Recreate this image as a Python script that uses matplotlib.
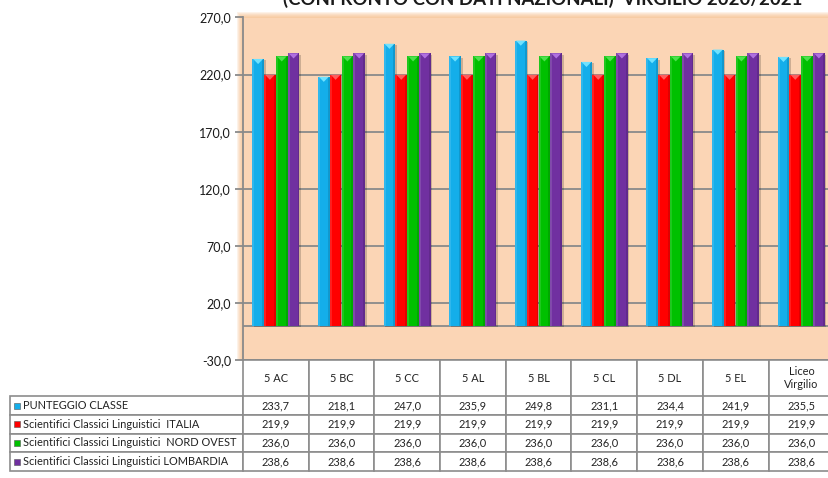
import matplotlib
matplotlib.use("Agg")
import matplotlib.pyplot as plt
from matplotlib.table import Table
from matplotlib.patches import Rectangle, Polygon
from matplotlib.ticker import FuncFormatter

plt.rcParams['font.family'] = ['Lato', 'DejaVu Sans']

# dati INVALSI per classe
classi = ["5 AC", "5 BC", "5 CC", "5 AL", "5 BL", "5 CL", "5 DL", "5 EL", "Liceo\nVirgilio"]
punteggio_classe = [233.7, 218.1, 247.0, 235.9, 249.8, 231.1, 234.4, 241.9, 235.5]
italia = [219.9, 219.9, 219.9, 219.9, 219.9, 219.9, 219.9, 219.9, 219.9]
nord_ovest = [236.0, 236.0, 236.0, 236.0, 236.0, 236.0, 236.0, 236.0, 236.0]
lombardia = [238.6, 238.6, 238.6, 238.6, 238.6, 238.6, 238.6, 238.6, 238.6]

serie = [
    "PUNTEGGIO CLASSE",
    "Scientifici Classici Linguistici  ITALIA",
    "Scientifici Classici Linguistici  NORD OVEST",
    "Scientifici Classici Linguistici LOMBARDIA",
]
valori = [punteggio_classe, italia, nord_ovest, lombardia]
colori = ["#14AEEA", "#FF0000", "#00C000", "#7030A0"]
punte = ["#6FE2FF", "#FF5C5C", "#4EE04E", "#B070E0"]

W, H = 829, 478
fig = plt.figure(figsize=(W / 100, H / 100), dpi=100)

# area del grafico in pixel
left_px, right_px, top_px, bot_px = 243, 834, 17.5, 360
ax = fig.add_axes([left_px / W, 1 - bot_px / H,
                   (right_px - left_px) / W, (bot_px - top_px) / H])
ax.set_facecolor("#FBD5B5")

# alone arancione attorno all'area del grafico
for k in range(1, 7):
    fig.patches.append(Rectangle(((left_px - k) / W, 1 - (bot_px) / H),
                                 (right_px - left_px + 2 * k) / W,
                                 (bot_px - top_px + k) / H,
                                 transform=fig.transFigure, facecolor="#F6B57A",
                                 alpha=0.17, edgecolor="none", zorder=-5))

n = len(classi)
w = 0.18
ax.set_xlim(-0.5, n - 0.5)
ax.set_ylim(-30, 270)

ax.axhline(0, color="#8A8A8A", lw=1.3, zorder=1)
for i, vals in enumerate(valori):
    for j, v in enumerate(vals):
        x = j + (i - 1.5) * w
        # ombra
        ax.add_patch(Rectangle((x - w / 2 + 0.025, -1.2), w, v, facecolor="black",
                               alpha=0.18, edgecolor="none", zorder=2))
        ax.bar(x, v, width=w, color=colori[i], edgecolor="none", zorder=3)
        # riflesso a sinistra e bordo scuro a destra
        ax.add_patch(Rectangle((x - w / 2, 0), w * 0.18, v, facecolor="white",
                               alpha=0.12, edgecolor="none", zorder=4))
        ax.add_patch(Rectangle((x + w / 2 - w * 0.16, 0), w * 0.16, v, facecolor="black",
                               alpha=0.12, edgecolor="none", zorder=4))
        # punta chiara in cima
        ax.add_patch(Polygon([(x - w / 2 + w * 0.08, v), (x + w / 2 - w * 0.08, v),
                              (x, v - 4.5)], closed=True, facecolor=punte[i],
                             edgecolor="none", zorder=5))

ax.set_yticks(range(-30, 271, 50))
ax.yaxis.set_major_formatter(FuncFormatter(lambda v, p: f"{v:.1f}".replace(".", ",")))
ax.yaxis.grid(True, color="#8A8A8A", lw=1.3)
ax.set_axisbelow(True)
ax.set_xticks([])
ax.tick_params(axis="y", direction="out", length=6, width=1.3, color="#8A8A8A",
               labelsize=9, labelcolor="#1a1a1a", pad=2.5)
for s in ["top", "right", "bottom"]:
    ax.spines[s].set_visible(False)
ax.spines["left"].set_color("#8A8A8A")
ax.spines["left"].set_linewidth(1.3)

# tabella dati sotto il grafico (colonna 0 = etichette delle serie)
col_w = 65.7
head_h = 36.5
row_h = 18.6
lab_x = 10
lab_w = left_px - lab_x
ax_w = right_px - left_px
axes_h = bot_px - top_px
tab_h = head_h + 4 * row_h
tab = Table(ax, bbox=[(lab_x - left_px) / ax_w, -tab_h / axes_h,
                      (lab_w + n * col_w) / ax_w, tab_h / axes_h])
tab.auto_set_font_size(False)
edge = "#8C8C8C"
fs = 7.9
for j, c in enumerate(classi, start=1):
    cell = tab.add_cell(0, j, width=col_w, height=head_h, text=c, loc="center",
                        facecolor="white", edgecolor=edge)
    cell.set_linewidth(1.2)
    cell.get_text().set_fontsize(fs)
    cell.get_text().set_color("#222222")
for r, (nome, vals) in enumerate(zip(serie, valori), start=1):
    cell = tab.add_cell(r, 0, width=lab_w, height=row_h, text=nome, loc="left",
                        facecolor="white", edgecolor=edge)
    cell.PAD = 13 / lab_w
    cell.set_linewidth(1.2)
    cell.get_text().set_fontsize(fs)
    cell.get_text().set_color("#222222")
    for j, v in enumerate(vals, start=1):
        cell = tab.add_cell(r, j, width=col_w, height=row_h,
                            text=f"{v:.1f}".replace(".", ","), loc="center",
                            facecolor="white", edgecolor=edge)
        cell.set_linewidth(1.2)
        cell.get_text().set_fontsize(fs)
        cell.get_text().set_color("#222222")
ax.add_table(tab)

# quadratini colorati della legenda
for r, col in enumerate(colori):
    yc = bot_px + head_h + row_h * (r + 0.5)
    ax.add_patch(Rectangle(((14 - left_px) / ax_w, (bot_px - yc - 3) / axes_h),
                           6 / ax_w, 6 / axes_h, transform=ax.transAxes,
                           facecolor=col, edgecolor="#555555", lw=0.4,
                           clip_on=False, zorder=10))

fig.text(543 / W, 1 - 4.5 / H, "(CONFRONTO CON DATI NAZIONALI)  VIRGILIO 2020/2021",
         ha="center", va="baseline", fontsize=13.4, fontweight="bold", color="#1a1a1a")

fig.savefig("out.png", dpi=100)
